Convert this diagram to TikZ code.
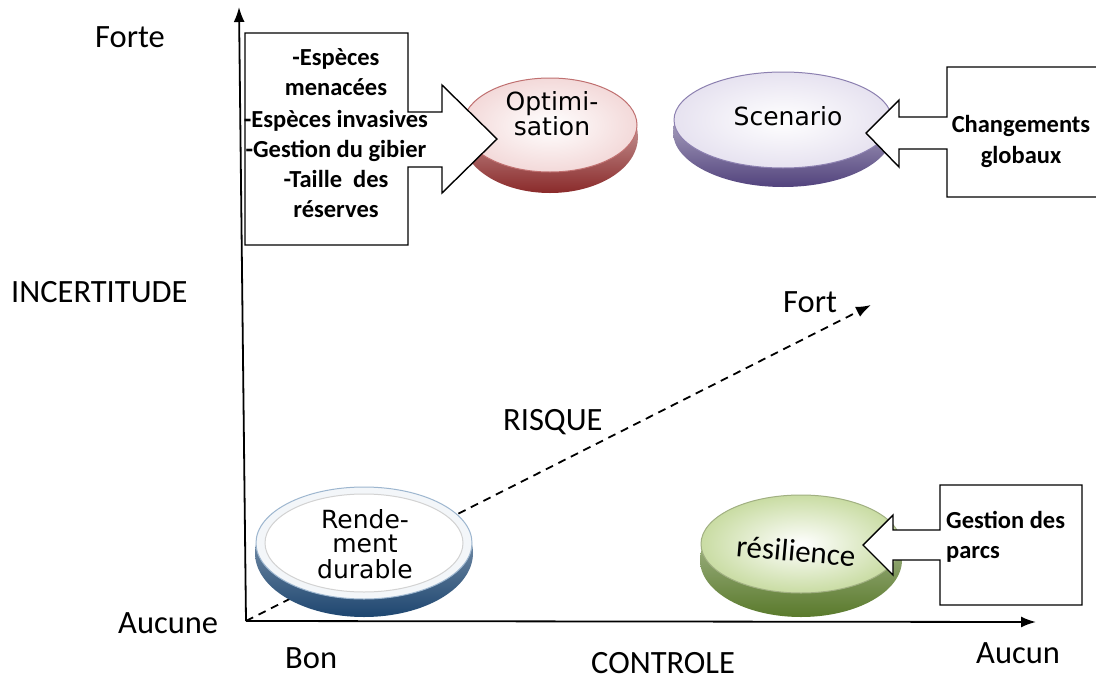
\documentclass[tikz,border=0pt]{standalone}
\usepackage{fontspec}
\setmainfont{Carlito}
\newfontfamily\discfont{DejaVu Sans}
\usetikzlibrary{shapes.geometric,arrows.meta}

\definecolor{optdark}{HTML}{8A2A2A}
\definecolor{optlight}{HTML}{EBC0C0}
\definecolor{optedge}{HTML}{C07070}
\definecolor{scndark}{HTML}{52437D}
\definecolor{scnlight}{HTML}{D6CFE6}
\definecolor{scnedge}{HTML}{8C80B0}
\definecolor{rdtdark}{HTML}{1E4670}
\definecolor{rdtlight}{HTML}{9DB6CF}
\definecolor{rdtring}{HTML}{F3F6F9}
\definecolor{resdark}{HTML}{5A7A2C}
\definecolor{reslight}{HTML}{C9DCA3}

\begin{document}
\begin{tikzpicture}[x=1pt,y=-1pt,
  axis/.style={line width=1.8pt, -{Latex[length=15pt,width=11pt]}},
  riskline/.style={line width=1.8pt, dash pattern=on 8pt off 6pt, -{Latex[length=15pt,width=11pt]}},
  lbl/.style={font=\fontsize{32.5}{38}\selectfont, anchor=base west, inner sep=0pt},
  callout/.style={draw=black, line width=1.4pt, fill=white, line join=miter},
  boxtxt/.style={font=\bfseries\fontsize{24.5}{30}\selectfont, inner sep=0pt, anchor=base},
  face/.style={ellipse, inner sep=0pt, line width=1pt},
  disctxt/.style={font=\discfont\fontsize{25}{25}\selectfont, inner sep=0pt, anchor=base}
]
\useasboundingbox[fill=white] (0,0) rectangle (1096,686);

% axes and risk direction
\coordinate (O) at (246,621);
\coordinate (ytop) at (239,7);
\coordinate (xend) at (1036,622);
\coordinate (riskend) at (871,305);
\draw[riskline] (O) -- (riskend);
\draw[axis] (O) -- (ytop);
\draw[axis] (O) -- (xend);

% Optimisation disc
\shade[top color=optlight, bottom color=optdark, middle color=optdark!60] (550,137) ellipse [x radius=88, y radius=56];
\node[face, minimum width=174pt, minimum height=94pt, draw=optedge, inner color=white, outer color=optlight!60] (opt) at (550,125) {};
\node[disctxt] (opt1) at (552,110) {Optimi-};
\node[disctxt] (opt2) at (552,135) {sation};

% Scenario disc
\shade[top color=scnlight, bottom color=scndark, middle color=scndark!60] (783,132) ellipse [x radius=110, y radius=55];
\node[face, minimum width=218pt, minimum height=96pt, draw=scnedge, inner color=white, outer color=scnlight!60] (scn) at (783,120) {};
\node[disctxt] (scn1) at (788,125) {Scenario};

% Rendement durable disc
\shade[top color=rdtlight, bottom color=rdtdark, middle color=rdtdark!70] (364,553) ellipse [x radius=109, y radius=64];
\node[face, minimum width=216pt, minimum height=112pt, draw=rdtlight, fill=rdtring] (rdt) at (364,543) {};
\node[face, minimum width=198pt, minimum height=98pt, draw=gray!35, fill=white] (rdtin) at (364,543) {};
\node[disctxt] (rdt1) at (365,528) {Rende-};
\node[disctxt] (rdt2) at (365,552) {ment};
\node[disctxt] (rdt3) at (365,578) {durable};

% resilience disc
\shade[top color=reslight, bottom color=resdark, middle color=resdark!70] (801,560) ellipse [x radius=101, y radius=57];
\node[face, minimum width=200pt, minimum height=98pt, draw=reslight!80!black, inner color=white, outer color=reslight] (res) at (801,544) {};
\node[font=\fontsize{31}{31}\selectfont, rotate=-5, inner sep=0pt] (res1) at (796,551) {résilience};

% callouts
\draw[callout] (245,33) -- (408,33) -- (408,112) -- (442,112) -- (442,85) -- (497,139)
  -- (442,193) -- (442,167) -- (408,167) -- (408,245) -- (245,245) -- cycle;
\node[boxtxt] (b1) at (336,65) {-Espèces};
\node[boxtxt] (b2) at (336,95) {menacées};
\node[boxtxt] (b3) at (336,127) {-Espèces invasives};
\node[boxtxt] (b4) at (336,157) {-Gestion du gibier};
\node[boxtxt] (b5) at (336,187) {-Taille\ \ des};
\node[boxtxt] (b6) at (336,217) {réserves};

\fill[white] (1096,67) -- (947,67) -- (947,117) -- (899,117) -- (899,100) -- (866,133)
  -- (899,167) -- (899,149) -- (947,149) -- (947,197) -- (1096,197) -- cycle;
\draw[line width=1.4pt, line join=miter] (1096,67) -- (947,67) -- (947,117) -- (899,117) -- (899,100) -- (866,133)
  -- (899,167) -- (899,149) -- (947,149) -- (947,197) -- (1096,197);
\node[boxtxt] (c1) at (1021,132) {Changements};
\node[boxtxt] (c2) at (1021,163) {globaux};

\draw[callout] (940,485) -- (1082,485) -- (1082,605) -- (940,605) -- (940,560) -- (893,560)
  -- (893,575) -- (863,545) -- (893,515) -- (893,530) -- (940,530) -- cycle;
\node[boxtxt, anchor=base west] (g1) at (946,528) {Gestion des};
\node[boxtxt, anchor=base west] (g2) at (946,558) {parcs};

% axis labels
\node[lbl] (forte) at (95,47) {Forte};
\node[lbl] (incert) at (11,302) {INCERTITUDE};
\node[lbl] (aucune) at (118,633) {Aucune};
\node[lbl] (bon) at (285,668) {Bon};
\node[lbl] (controle) at (591,673) {CONTROLE};
\node[lbl] (aucun) at (976,663) {Aucun};
\node[lbl] (fort) at (783,312) {Fort};
\node[lbl] (risque) at (503,430) {RISQUE};
\end{tikzpicture}
\end{document}
